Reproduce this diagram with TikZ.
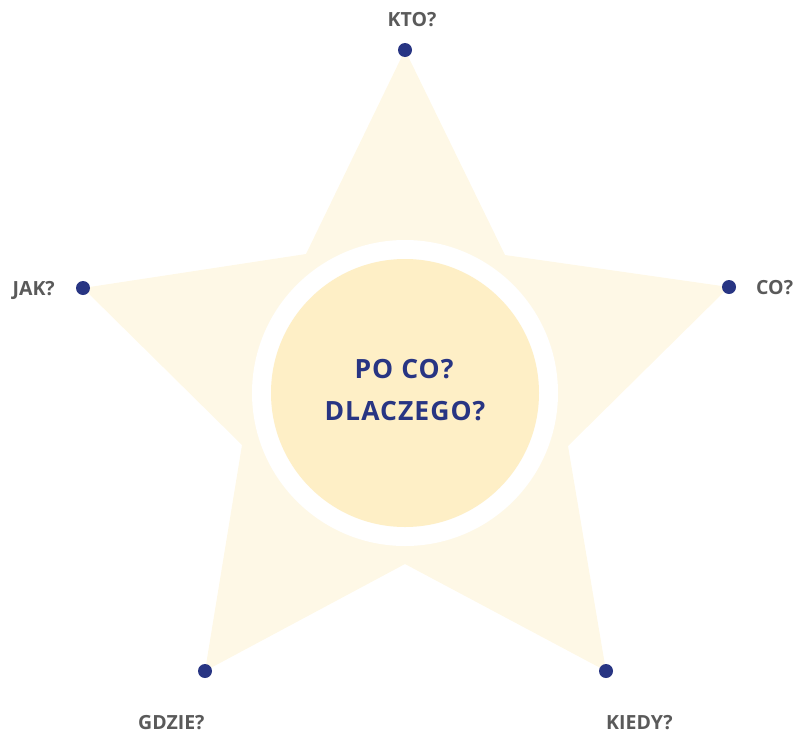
\documentclass[tikz,border=0pt]{standalone}
\usepackage{fontspec}
\setmainfont{Open Sans}
\definecolor{starfill}{HTML}{FEF8E6}
\definecolor{innerfill}{HTML}{FEEFC6}
\definecolor{navy}{HTML}{283583}
\definecolor{lblgray}{HTML}{5A5A5A}
\begin{document}
\begin{tikzpicture}[x=1pt,y=-1pt,
  dot/.style={circle,fill=navy,inner sep=0pt,minimum size=14pt},
  lbl/.style={font=\fontsize{19.5}{22}\selectfont\bfseries,text=lblgray,inner sep=0pt},
  ctr/.style={font=\fontsize{26.5}{30}\selectfont\bfseries\addfontfeature{LetterSpace=4},text=navy,inner sep=0pt}]
\useasboundingbox (0,0) rectangle (793,734);
\fill[starfill] (405,50) -- (505,255) -- (729,287) -- (568,446) -- (606,671) -- (405,564) -- (205,671) -- (242,445) -- (83,288) -- (306,254) -- cycle;
\fill[white] (405,393) circle[radius=153];
\node[circle,fill=innerfill,minimum size=268pt,inner sep=0pt] (core) at (405,393) {};
\node[ctr,anchor=base] (t1) at (404,378) {PO CO?};
\node[ctr,anchor=base] (t2) at (405,420) {DLACZEGO?};
\node[dot] (d1) at (405,50) {};
\node[dot] (d2) at (729,287) {};
\node[dot] (d3) at (606,671) {};
\node[dot] (d4) at (205,671) {};
\node[dot] (d5) at (83,288) {};
\node[lbl,anchor=base] (l1) at (412,26) {KTO?};
\node[lbl,anchor=base west] (l2) at (756,294) {CO?};
\node[lbl,anchor=base west] (l3) at (606,729) {KIEDY?};
\node[lbl,anchor=base west] (l4) at (138,729) {GDZIE?};
\node[lbl,anchor=base east] (l5) at (55,295) {JAK?};
\end{tikzpicture}
\end{document}
